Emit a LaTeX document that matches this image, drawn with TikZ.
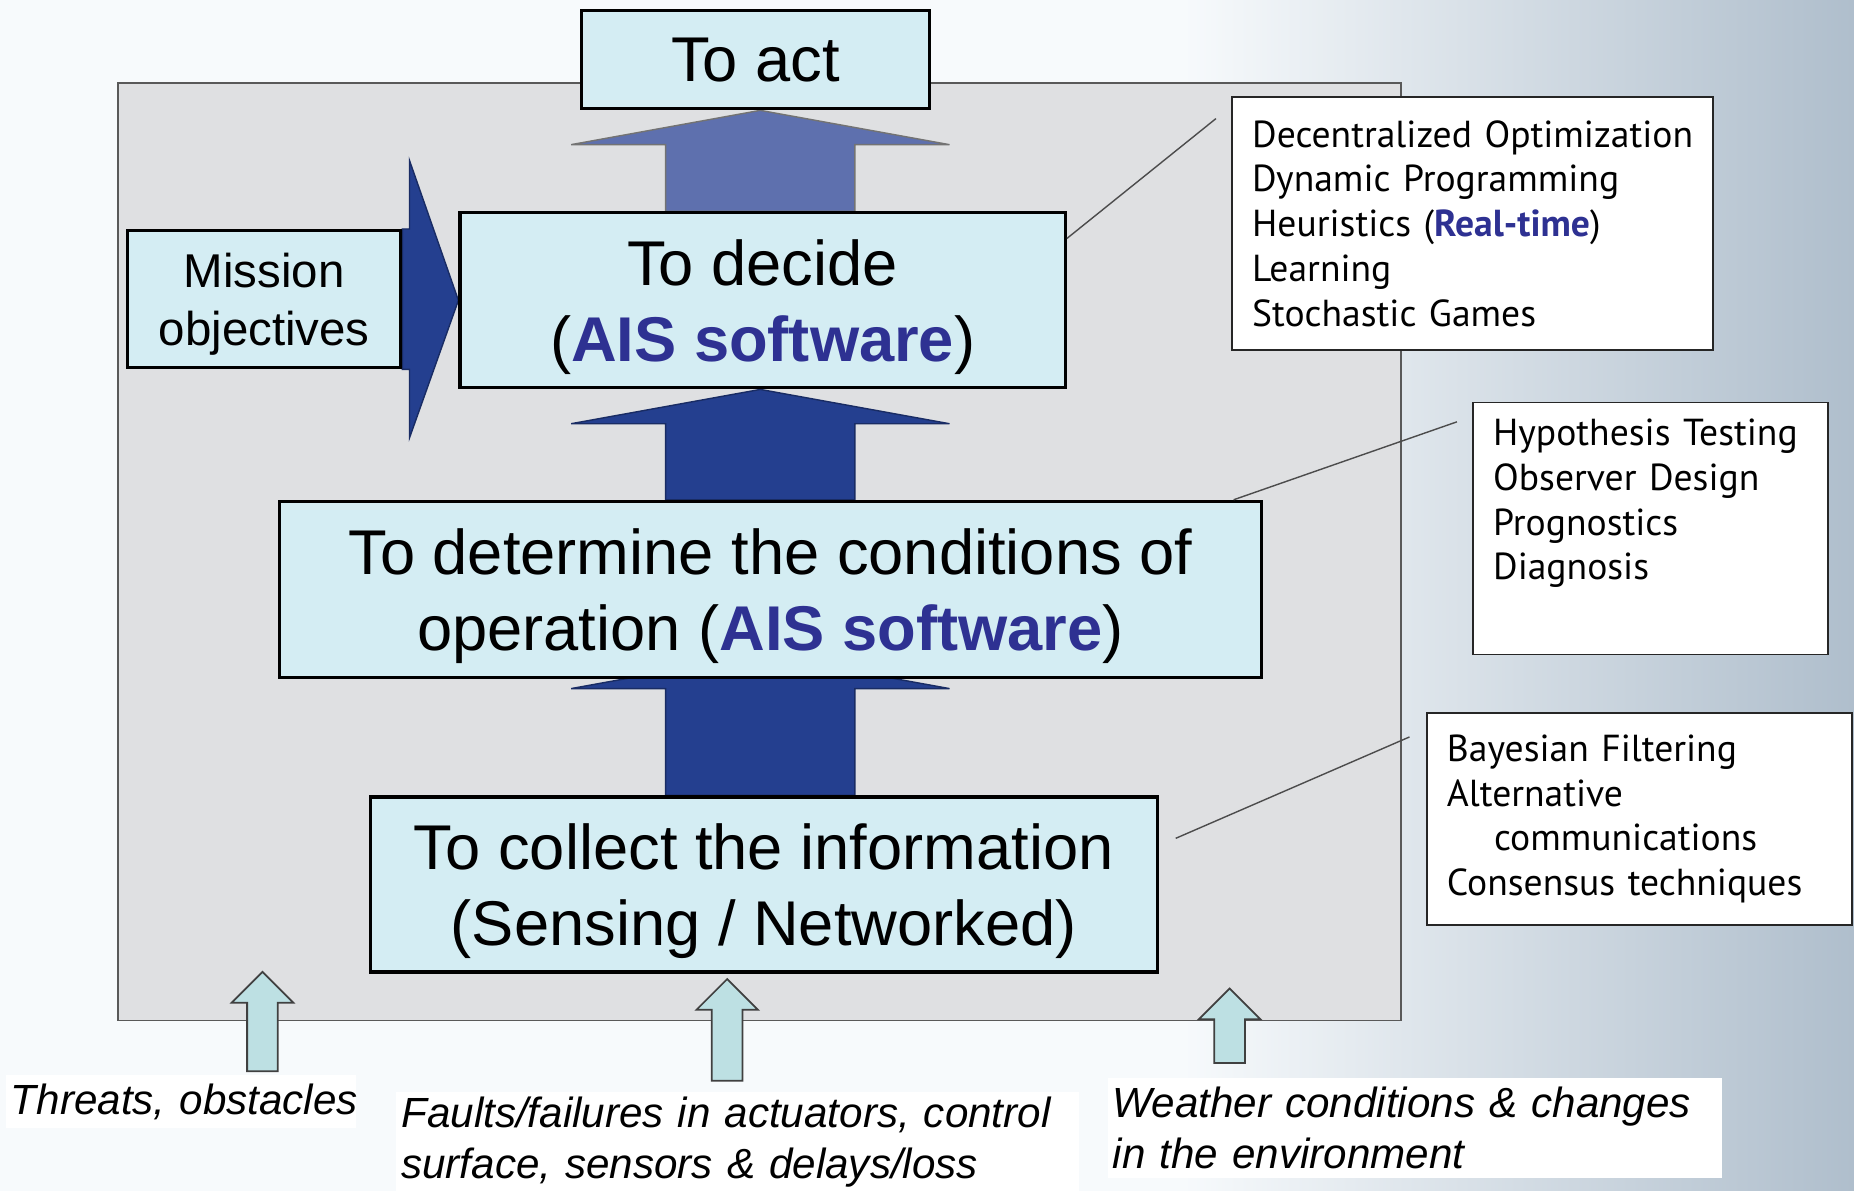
\documentclass[tikz,border=0pt]{standalone}
\usepackage{fontspec}
\setmainfont{Liberation Sans}
\newfontfamily\listfont{PT Sans}
\usetikzlibrary{calc}
\definecolor{boxfill}{HTML}{D4EDF3}
\definecolor{panelgray}{HTML}{DFE0E2}
\definecolor{darkblue}{HTML}{243F8F}
\definecolor{softblue}{HTML}{5E70AE}
\definecolor{aisblue}{HTML}{2E3192}
\definecolor{feedfill}{HTML}{BDE0E3}
\definecolor{bgleft}{HTML}{F7FAFC}
\definecolor{bgright}{HTML}{AFBECC}
\pgfdeclarelayer{back}
\pgfdeclarelayer{mid}
\pgfsetlayers{back,mid,main}
\tikzset{
  stage/.style={draw=black, line width=.9pt, fill=boxfill, inner sep=0pt, align=center,
    text depth=0pt, font=\fontsize{18}{21.5}\selectfont},
  listbox/.style={draw=black!85, line width=.5pt, fill=white, inner xsep=.2cm, inner ysep=0pt,
    align=left, font=\listfont\fontsize{10.7}{12.74}\selectfont},
  cause/.style={fill=white, inner xsep=.05cm, inner ysep=0pt, align=left,
    font=\itshape\fontsize{12}{14.6}\selectfont},
  lead/.style={draw=black!70, line width=.4pt},
  dark/.style={fill=darkblue, draw=darkblue!70!black, line width=.4pt},
  upper/.style={fill=softblue, draw=black!55, line width=.4pt},
  feed/.style={fill=feedfill, draw=black!75, line width=.5pt}
}
\newcommand{\ais}{\textbf{\color{aisblue}AIS software}}
% block arrow: style, foot of shaft, tip
\newcommand{\blockarrow}[3]{%
  \path[#1] ($(#2)+(-80,0)$) -- ($(#2)+(80,0)$) |- ($(#3)+(160,29)$) -- (#3)
    -- ($(#3)+(-160,29)$) -| ($(#2)+(-80,0)$) -- cycle;}
% small arrow from below: foot, tip
\newcommand{\feedarrow}[2]{%
  \path[feed] ($(#1)+(-13,0)$) -- ($(#1)+(13,0)$) |- ($(#2)+(26,26)$) -- (#2)
    -- ($(#2)+(-26,26)$) -| ($(#1)+(-13,0)$) -- cycle;}
\begin{document}
\begin{tikzpicture}[x=0.011824cm, y=-0.011824cm]
\useasboundingbox (0,0) rectangle (1568,1007);

\begin{pgfonlayer}{back}
\fill[bgleft] (0,0) rectangle (1568,1007);
\shade[left color=bgleft, right color=bgright] (1000,0) rectangle (1568,1007);
\draw[fill=panelgray, draw=black!65, line width=.5pt] (100,70) rectangle (1185,863);
\end{pgfonlayer}

% the four stages
\node[stage, minimum width=3.476cm, minimum height=0.981cm] (act) at (639,50.5) {To act};
\node[stage, minimum width=6.054cm, minimum height=1.75cm] (decide) at (645,254) {To decide\\(\ais)};
\node[stage, font=\fontsize{13.5}{16.5}\selectfont, minimum width=2.731cm, minimum height=1.372cm]
  (mission) at (223.5,253) {Mission\\objectives};
\node[stage, minimum width=9.826cm, minimum height=1.762cm] (determine) at (651.5,498.5)
  {To determine the conditions of\\operation (\ais)};
\node[stage, minimum width=7.875cm, minimum height=1.75cm] (collect) at (646,748)
  {To collect the information\\(Sensing / Networked)};

% methods
\node[listbox, text width=4.41cm, minimum height=2.53cm] (side1) at (1245.5,189)
  {Decentralized Optimization\\Dynamic Programming\\Heuristics (\textbf{\color{aisblue}Real-time})\\Learning\\Stochastic Games};
\node[listbox, text width=3.15cm, minimum height=2.519cm] (side2) at (1396,447)
  {Hypothesis Testing\\Observer Design\\Prognostics\\Diagnosis\\\strut};
\node[listbox, text width=3.85cm, minimum height=2.117cm] (side3) at (1386.5,692.5)
  {Bayesian Filtering\\Alternative\\\hspace*{13.4pt}communications\\Consensus techniques};

% disturbances
\node[cause, text width=3.4cm, minimum height=.532cm] (threats) at (153,931.5) {\mbox{Threats, obstacles}};
\node[cause, text width=6.73cm, minimum height=1.005cm] (faults) at (624,966)
  {Faults/failures in actuators, control\\surface, sensors \& delays/loss};
\node[cause, text width=6.04cm, minimum height=1.005cm] (weather) at (1196.5,954)
  {Weather conditions \& changes\\in the environment};

% arrows
\coordinate (ax) at (643,0);
\coordinate (a1) at (ax |- decide.north);
\coordinate (t1) at (ax |- act.south);
\coordinate (a2) at (ax |- determine.north);
\coordinate (t2) at (ax |- decide.south);
\coordinate (a3) at (ax |- collect.north);
\coordinate (t3) at ($(ax |- determine.south)+(0,-21)$);
\begin{pgfonlayer}{mid}
\blockarrow{upper}{a1}{t1}
\blockarrow{dark}{a2}{t2}
\blockarrow{dark}{a3}{t3}
\path[dark] (mission.north east) -- ++(6,0) -- ++(0,-58) -- (decide.west)
  -- ($(mission.south east)+(6,58)$) -- ++(0,-58) -- ++(-6,0) -- cycle;
\end{pgfonlayer}

\coordinate (f1) at (222,906);
\coordinate (f2) at (615,914);
\coordinate (f3) at (1040,899);
\feedarrow{f1}{222,822}
\feedarrow{f2}{615,828}
\feedarrow{f3}{1040,836}

% leaders
\draw[lead] ($(decide.north east)+(0,23)$) -- ($(side1.north west)+(-13,19)$);
\draw[lead] ($(determine.north east)+(-25,0)$) -- ($(side2.north west)+(-13,17)$);
\draw[lead] ($(collect.east)+(14,-39)$) -- ($(side3.north west)+(-14,21)$);
\end{tikzpicture}
\end{document}
